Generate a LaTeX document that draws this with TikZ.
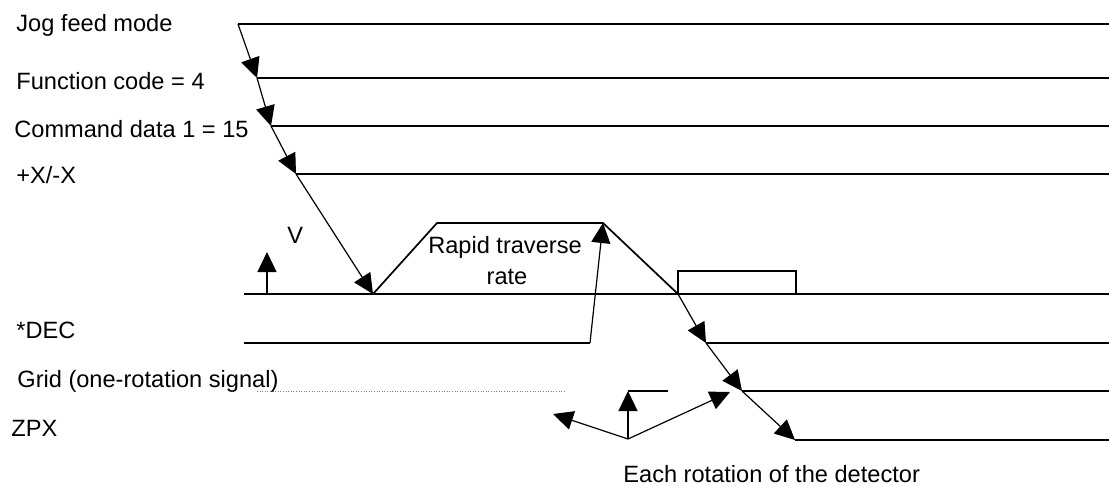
\documentclass[tikz,border=0pt]{standalone}
\usepackage{fontspec}
\setmainfont{Liberation Sans}
\usetikzlibrary{arrows.meta}

\begin{document}
\begin{tikzpicture}[x=0.5pt, y=-0.5pt, font=\fontsize{11.8}{14}\selectfont,
	sig/.style={line width=0.85pt},
	trig/.style={line width=0.6pt, -{Triangle[length=10pt, width=9.5pt]}},
	lbl/.style={anchor=base west, inner sep=0pt}]
	\useasboundingbox (0,0) rectangle (1109,487);
	
	% signal names
	\node[lbl] (jog) at (16,32) {Jog feed mode};
	\node[lbl] (fcode) at (16,89) {Function code = 4};
	\node[lbl] (cdata) at (14,137) {Command data 1 = 15};
	\node[lbl] (dir) at (16,183) {+X/-X};
	\node[lbl] (vel) at (287,243) {V};
	\node[lbl] (dec) at (16,338) {*DEC};
	\node[lbl] (grid) at (17,387) {Grid (one-rotation signal)};
	\node[lbl] (zpx) at (11,436) {ZPX};
	\node[anchor=base, inner sep=0pt] (rapid) at (505,253) {Rapid traverse};
	\node[anchor=base, inner sep=0pt] (rate) at (507,284) {rate};
	\node[lbl] (each) at (623,482) {Each rotation of the detector};
	
	% points
	\coordinate (J0) at (238,24);  \coordinate (J1) at (1109,24);
	\coordinate (F0) at (257,78);  \coordinate (F1) at (1109,78);
	\coordinate (C0) at (271,126); \coordinate (C1) at (1109,126);
	\coordinate (X0) at (296,174); \coordinate (X1) at (1109,174);
	\coordinate (V0) at (244,294); \coordinate (V1) at (1109,294);
	\coordinate (A) at (373,294);  \coordinate (B) at (437,223);
	\coordinate (T) at (603,223);  \coordinate (P) at (678,294);
	\coordinate (PA) at (678,271); \coordinate (PB) at (796,271);
	\coordinate (PC) at (796,294);
	\coordinate (VA) at (267,294); \coordinate (VB) at (267,252);
	\coordinate (D0) at (244,343); \coordinate (D1) at (590,343);
	\coordinate (D2) at (706,343); \coordinate (D3) at (1109,343);
	\coordinate (G0) at (257,391); \coordinate (G1) at (566,391);
	\coordinate (G2) at (742,391); \coordinate (G3) at (1109,391);
	\coordinate (GA) at (628,391); \coordinate (GB) at (668,391);
	\coordinate (Z0) at (795,440); \coordinate (Z1) at (1109,440);
	\coordinate (E) at (628,439);
	\coordinate (EL) at (553,414); \coordinate (ER) at (730,392);
	
	% signal lines
	\draw[sig] (J0) -- (J1);
	\draw[sig] (F0) -- (F1);
	\draw[sig] (C0) -- (C1);
	\draw[sig] (X0) -- (X1);
	\draw[sig] (V0) -- (V1);
	\draw[sig] (A) -- (B) -- (T) -- (P);
	\draw[sig] (P) -- (PA) -- (PB) -- (PC);
	\draw[sig] (D0) -- (D1);
	\draw[sig] (D2) -- (D3);
	\draw[densely dotted, line width=0.3pt, gray] (G0) -- (G1);
	\draw[sig] (GA) -- (GB);
	\draw[sig] (G2) -- (G3);
	\draw[sig] (Z0) -- (Z1);
	
	% sequence arrows
	\draw[trig] (J0) -- (F0);
	\draw[trig] (F0) -- (C0);
	\draw[trig] (C0) -- (X0);
	\draw[trig] (X0) -- (A);
	\draw[trig] (VA) -- (VB);
	\draw[trig] (D1) -- (T);
	\draw[trig] (P) -- (D2);
	\draw[trig] (D2) -- (G2);
	\draw[trig] (G2) -- (Z0);
	
	% each rotation
	\draw[trig] (E) -- (EL);
	\draw[trig] (E) -- (GA);
	\draw[trig] (E) -- (ER);
\end{tikzpicture}
\end{document}
